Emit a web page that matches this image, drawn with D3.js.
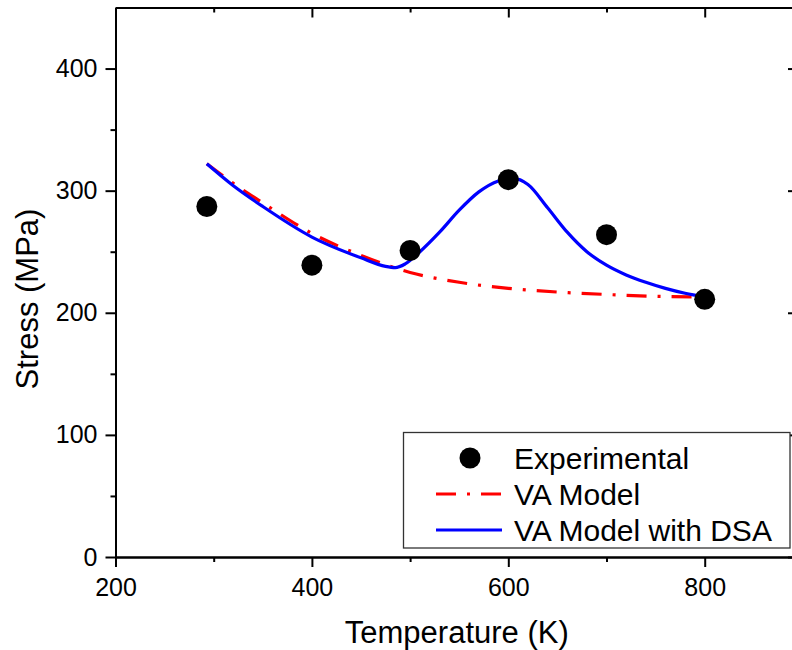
<!DOCTYPE html>
<html>
<head>
<meta charset="utf-8">
<script src="https://cdn.jsdelivr.net/npm/d3@7"></script>
<style>
  body { margin: 0; background: #fff; }
  svg { display: block; font-family: "Liberation Sans", Arial, sans-serif; }
</style>
</head>
<body>
<svg id="chart" width="792" height="650"></svg>
<script>
// Experimental points
const expT = [293, 400, 500, 600, 700, 800];
const expStress = [287, 239, 251, 309, 264, 211];

// VA Model (red dash-dot)
const vaT = [293, 320, 350, 400, 450, 500, 550, 600, 650, 700, 750, 800];
const vaStress = [322, 306, 290, 265, 247, 233, 225, 220, 217, 215, 213.5, 213];

// VA Model with DSA (blue)
const dsaT = [293, 320, 350, 400, 450, 475, 485, 495, 510, 530, 550, 570, 590, 605, 620, 640, 660, 680, 700, 720, 740, 760, 780, 800];
const dsaStress = [322, 304, 287, 262, 245, 238, 237, 240, 250, 266, 284, 299, 308, 310, 305, 286, 266, 250, 239, 231, 225, 220, 216, 213];

const xMajor = [200, 400, 600, 800];
const xMinor = [300, 500, 700];
const yMajor = [0, 100, 200, 300, 400];
const yMinor = [50, 150, 250, 350];

const legendLabels = ['Experimental', 'VA Model', 'VA Model with DSA'];

const svg = d3.select('#chart');
const mLeft = 115.5, mRight = 798, mTop = 7.5, mBottom = 557;

const x = d3.scaleLinear().domain([200, 895]).range([mLeft, mRight]);
const y = d3.scaleLinear().domain([0, 450]).range([mBottom, mTop]);

// Axes
const axisStyle = g => {
  g.selectAll('path').attr('stroke', '#000').attr('stroke-width', 2);
  g.selectAll('line').attr('stroke', '#000').attr('stroke-width', 2);
  g.selectAll('text').attr('fill', '#000').style('font-size', '25px')
    .style('font-family', '"Liberation Sans", Arial, sans-serif');
};

// bottom
svg.append('g').attr('transform', `translate(0,${mBottom})`)
  .call(d3.axisBottom(x).tickValues(xMajor).tickSize(10).tickSizeOuter(0).tickPadding(11).tickFormat(d3.format('d')))
  .call(axisStyle);
svg.append('g').attr('transform', `translate(0,${mBottom})`)
  .call(d3.axisBottom(x).tickValues(xMinor).tickSize(5).tickSizeOuter(0).tickFormat(''))
  .call(axisStyle);
// top (inward)
svg.append('g').attr('transform', `translate(0,${mTop})`)
  .call(d3.axisBottom(x).tickValues(xMajor).tickSize(10).tickSizeOuter(0).tickFormat(''))
  .call(axisStyle);
svg.append('g').attr('transform', `translate(0,${mTop})`)
  .call(d3.axisBottom(x).tickValues(xMinor).tickSize(5).tickSizeOuter(0).tickFormat(''))
  .call(axisStyle);
// left
svg.append('g').attr('transform', `translate(${mLeft},0)`)
  .call(d3.axisLeft(y).tickValues(yMajor).tickSize(10).tickSizeOuter(0).tickPadding(8))
  .call(axisStyle);
svg.append('g').attr('transform', `translate(${mLeft},0)`)
  .call(d3.axisLeft(y).tickValues(yMinor).tickSize(5).tickSizeOuter(0).tickFormat(''))
  .call(axisStyle);
// right (inward)
svg.append('g').attr('transform', `translate(${mRight},0)`)
  .call(d3.axisLeft(y).tickValues(yMajor).tickSize(10).tickSizeOuter(0).tickFormat(''))
  .call(axisStyle);
svg.append('g').attr('transform', `translate(${mRight},0)`)
  .call(d3.axisLeft(y).tickValues(yMinor).tickSize(5).tickSizeOuter(0).tickFormat(''))
  .call(axisStyle);

// Axis titles
svg.append('text')
  .attr('x', (mLeft + mRight) / 2).attr('y', 643)
  .attr('text-anchor', 'middle')
  .style('font-size', '31px')
  .text('Temperature (K)');
svg.append('text')
  .attr('transform', 'translate(38,299) rotate(-90)')
  .attr('text-anchor', 'middle')
  .style('font-size', '31px')
  .text('Stress (MPa)');

// Curves
const line = d3.line()
  .x(d => x(d[0])).y(d => y(d[1]))
  .curve(d3.curveMonotoneX);

svg.append('path')
  .datum(vaT.map((t, i) => [t, vaStress[i]]))
  .attr('d', line)
  .attr('fill', 'none')
  .attr('stroke', '#ff0000')
  .attr('stroke-width', 3.2)
  .attr('stroke-dasharray', '20,11,3,11');

svg.append('path')
  .datum(dsaT.map((t, i) => [t, dsaStress[i]]))
  .attr('d', line)
  .attr('fill', 'none')
  .attr('stroke', '#0000ff')
  .attr('stroke-width', 3.2);

// Experimental points
svg.append('g').selectAll('circle')
  .data(expT.map((t, i) => [t, expStress[i]]))
  .enter().append('circle')
  .attr('cx', d => x(d[0]))
  .attr('cy', d => y(d[1]))
  .attr('r', 10.5)
  .attr('fill', '#000');

// Legend
const lg = svg.append('g');
lg.append('rect')
  .attr('x', 403.5).attr('y', 432.5).attr('width', 386.5).attr('height', 115.5)
  .attr('fill', '#fff').attr('stroke', '#333').attr('stroke-width', 1.3);

const rowY = [458, 494, 530];
lg.append('circle').attr('cx', 470).attr('cy', rowY[0]).attr('r', 10.5).attr('fill', '#000');
lg.append('line').attr('x1', 436).attr('x2', 502).attr('y1', rowY[1]).attr('y2', rowY[1])
  .attr('stroke', '#ff0000').attr('stroke-width', 3.2).attr('stroke-dasharray', '20,11,3,11');
lg.append('line').attr('x1', 436).attr('x2', 502).attr('y1', rowY[2]).attr('y2', rowY[2])
  .attr('stroke', '#0000ff').attr('stroke-width', 3.2);

lg.selectAll('text.lbl')
  .data(legendLabels)
  .enter().append('text')
  .attr('class', 'lbl')
  .attr('x', 514)
  .attr('y', (d, i) => rowY[i] + 11)
  .style('font-size', '30px')
  .text(d => d);
</script>
</body>
</html>
